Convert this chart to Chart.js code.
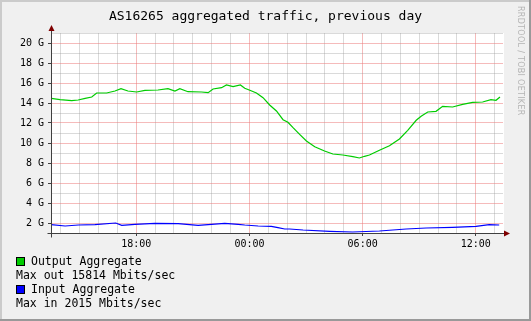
<!DOCTYPE html>
<html>
<head>
<meta charset="utf-8">
<script src="https://cdn.jsdelivr.net/npm/chart.js@4.4.1/dist/chart.umd.min.js"></script>
<style>
    body { margin: 0; background: #f0f0f0; }
    #wrap { position: relative; width: 531px; height: 321px; }
    #graph { position: absolute; left: 0; top: 0; }
    .legend { position: absolute; left: 16px; top: 254px; font: 11.5px "DejaVu Sans Mono", monospace; color: #000; }
    .legend div { height: 14px; line-height: 14px; white-space: pre; }
    .swatch { display: inline-block; width: 7px; height: 7px; border: 1px solid #000; margin-right: 6px; vertical-align: -1px; }
    .stamp { position: absolute; left: 516px; top: 6px; writing-mode: vertical-rl; font: 8px "DejaVu Sans", sans-serif; letter-spacing: 0.3px; color: #b4b4b4; }
</style>
</head>
<body>
<div id="wrap">
    <canvas id="graph" width="531" height="321"></canvas>
    <div class="stamp">RRDTOOL / TOBI OETIKER</div>
    <div class="legend">
        <div><span class="swatch" style="background:#00cc00"></span>Output Aggregate</div>
        <div>Max out 15814 Mbits/sec</div>
        <div><span class="swatch" style="background:#0000ff"></span>Input Aggregate</div>
        <div>Max in 2015 Mbits/sec</div>
    </div>
</div>
<script>
// hours since midnight of the first day (24 = 00:00 next day)
var outHours = [13.49, 13.96, 14.58, 14.92, 15.29, 15.64, 15.90, 16.43, 16.87, 17.19, 17.56, 18.02,
    18.46, 19.15, 19.68, 20.05, 20.31, 20.74, 21.46, 21.81, 22.07, 22.52, 22.78, 23.13, 23.52, 23.75,
    24.02, 24.37, 24.72, 25.07, 25.43, 25.78, 26.04, 26.31, 26.66, 27.02, 27.46, 27.98, 28.42, 28.95,
    29.48, 29.83, 30.10, 30.36, 30.89, 31.42, 31.95, 32.39, 32.84, 33.10, 33.45, 33.89, 34.24, 34.77,
    35.30, 35.83, 36.36, 36.80, 37.07, 37.28];
// output aggregate, Gbit/s
var outGbps = [14.47, 14.33, 14.23, 14.3, 14.47, 14.6, 15.0, 15.0, 15.2, 15.43, 15.2, 15.1,
    15.27, 15.3, 15.43, 15.2, 15.43, 15.13, 15.1, 15.03, 15.4, 15.53, 15.8, 15.63, 15.8, 15.47,
    15.27, 15.0, 14.53, 13.8, 13.2, 12.33, 12.07, 11.53, 10.87, 10.2, 9.63, 9.2, 8.9, 8.8,
    8.63, 8.5, 8.67, 8.8, 9.27, 9.73, 10.4, 11.27, 12.27, 12.67, 13.1, 13.17, 13.67, 13.6,
    13.87, 14.07, 14.1, 14.33, 14.27, 14.6];

var inHours = [13.49, 14.23, 14.93, 15.81, 16.91, 17.23, 17.93, 18.99, 20.22, 21.28, 22.69, 23.40,
    23.75, 24.46, 25.16, 25.51, 25.87, 26.13, 26.84, 28.25, 29.47, 30.89, 32.31, 33.37, 34.77,
    36.01, 36.71, 37.24];
// input aggregate, Gbit/s
var inGbps = [1.83, 1.7, 1.8, 1.83, 2.0, 1.77, 1.87, 1.97, 1.93, 1.77, 1.97, 1.87,
    1.8, 1.7, 1.67, 1.53, 1.4, 1.4, 1.3, 1.17, 1.1, 1.2, 1.4, 1.5, 1.57,
    1.67, 1.83, 1.8];

var timeLabels = {18: '18:00', 24: '00:00', 30: '06:00', 36: '12:00'};
var yTicks = [1, 2, 3, 4, 5, 6, 7, 8, 9, 10, 11, 12, 13, 14, 15, 16, 17, 18, 19, 20, 21];
var xTicks = [14, 15, 16, 17, 18, 19, 20, 21, 22, 23, 24, 25, 26, 27, 28, 29, 30, 31, 32, 33, 34, 35, 36, 37];

var MGRID = 'rgba(235, 120, 120, 0.5)';
var GRID = 'rgba(150, 150, 150, 0.35)';
var AXIS = '#404040';
var ARROW = '#7f0000';

function pairs(xs, ys) {
    return xs.map(function (x, i) {
        return {x: x, y: ys[i]};
    });
}

// rrdtool-ish frame, white canvas and the two arrow heads
var frame = {
    id: 'frame',
    beforeDraw: function (chart) {
        var c = chart.ctx;
        var a = chart.chartArea;
        c.save();
        c.fillStyle = '#f0f0f0';
        c.fillRect(0, 0, chart.width, chart.height);
        c.fillStyle = '#ffffff';
        c.fillRect(a.left, a.top, a.right - a.left + 1, a.bottom - a.top);
        c.fillStyle = '#cbcbcb';
        c.fillRect(0, 0, chart.width, 2);
        c.fillRect(0, 0, 2, chart.height);
        c.fillStyle = '#999999';
        c.fillRect(0, chart.height - 2, chart.width, 2);
        c.fillRect(chart.width - 2, 0, 2, chart.height);
        c.restore();
    },
    afterDraw: function (chart) {
        var c = chart.ctx;
        var a = chart.chartArea;
        var l = Math.round(a.left) + 0.5;
        var b = Math.round(a.bottom) + 0.5;
        c.save();
        c.strokeStyle = AXIS;
        c.lineWidth = 1;
        c.beginPath();
        c.moveTo(l, b + 4);
        c.lineTo(l, a.top - 3);
        c.moveTo(l - 4, b);
        c.lineTo(a.right + 2, b);
        c.stroke();
        c.fillStyle = ARROW;
        c.beginPath();
        c.moveTo(l - 3, a.top - 2);
        c.lineTo(l + 3, a.top - 2);
        c.lineTo(l, a.top - 8);
        c.closePath();
        c.fill();
        c.beginPath();
        c.moveTo(a.right + 1, b - 3);
        c.lineTo(a.right + 1, b + 3);
        c.lineTo(a.right + 7, b);
        c.closePath();
        c.fill();
        c.restore();
    }
};

var ctx = document.getElementById('graph');
var tickFont = {family: '"DejaVu Sans Mono", monospace', size: 10};

new Chart(ctx, {
    type: 'line',
    data: {
        datasets: [{
            label: 'Output Aggregate',
            data: pairs(outHours, outGbps),
            borderColor: '#00cc00',
            borderWidth: 1.2,
            pointRadius: 0,
            tension: 0,
        },
        {
            label: 'Input Aggregate',
            data: pairs(inHours, inGbps),
            borderColor: '#0000ff',
            borderWidth: 1.2,
            pointRadius: 0,
            tension: 0,
        }]
    },
    options: {
        responsive: false,
        animation: false,
        devicePixelRatio: 1,
        layout: {
            padding: 0
        },
        plugins: {
            legend: {display: false},
            tooltip: {enabled: false},
            title: {
                display: true,
                text: 'AS16265 aggregated traffic, previous day',
                color: '#000',
                font: {family: '"DejaVu Sans Mono", monospace', size: 13, weight: 'normal', lineHeight: 1.2},
                padding: {top: 9, bottom: 8.4}
            }
        },
        scales: {
            x: {
                type: 'linear',
                min: 13.48,
                max: 37.44,
                afterBuildTicks: function (scale) {
                    scale.ticks = xTicks.map(function (v) {
                        return {value: v};
                    });
                },
                afterFit: function (scale) {
                    scale.height = 88;
                },
                ticks: {
                    autoSkip: false,
                    maxRotation: 0,
                    padding: 2,
                    color: '#000',
                    font: tickFont,
                    callback: function (v) {
                        return timeLabels[v] || '';
                    }
                },
                grid: {
                    tickLength: 3,
                    color: function (c) {
                        return timeLabels[c.tick.value] ? MGRID : GRID;
                    },
                    tickColor: function (c) {
                        return timeLabels[c.tick.value] ? AXIS : 'rgba(0,0,0,0)';
                    }
                },
                border: {color: AXIS}
            },
            y: {
                min: 1,
                max: 21,
                afterBuildTicks: function (scale) {
                    scale.ticks = yTicks.map(function (v) {
                        return {value: v};
                    });
                },
                afterFit: function (scale) {
                    scale.width = 51;
                },
                ticks: {
                    autoSkip: false,
                    padding: 4,
                    color: '#000',
                    font: tickFont,
                    callback: function (v) {
                        return v % 2 === 0 ? v + ' G' : '';
                    }
                },
                grid: {
                    tickLength: 3,
                    color: function (c) {
                        return c.tick.value % 2 === 0 ? MGRID : GRID;
                    },
                    tickColor: function (c) {
                        return c.tick.value % 2 === 0 ? AXIS : 'rgba(0,0,0,0)';
                    }
                },
                border: {color: AXIS}
            },
            // empty strip on the right, keeps the title centred on the whole image
            side: {
                position: 'right',
                min: 0,
                max: 1,
                afterFit: function (scale) {
                    scale.width = 28;
                },
                ticks: {display: false},
                grid: {display: false, drawTicks: false},
                border: {display: false}
            }
        }
    },
    plugins: [frame]
});
</script>
</body>
</html>
